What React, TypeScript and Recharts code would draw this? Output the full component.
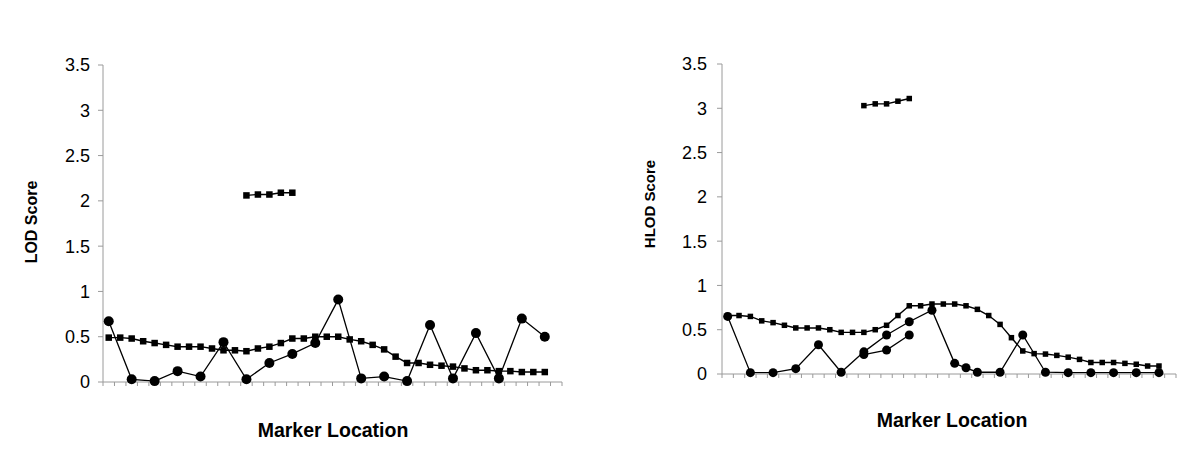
import React from 'react';
import { LineChart, Line, XAxis, YAxis } from 'recharts';

// 40 marker slots along the chromosome (category positions)
const markers = [
  1, 2, 3, 4, 5, 6, 7, 8, 9, 10, 11, 12, 13, 14, 15, 16, 17, 18, 19, 20,
  21, 22, 23, 24, 25, 26, 27, 28, 29, 30, 31, 32, 33, 34, 35, 36, 37, 38, 39, 40,
];
const yTicks = [0, 0.5, 1, 1.5, 2, 2.5, 3, 3.5];
const yTickLabels = ['0', '0.5', '1', '1.5', '2', '2.5', '3', '3.5'];

// Left panel: LOD score
const lodSquare = [
  0.49, 0.49, 0.48, 0.45, 0.43, 0.41, 0.39, 0.39, 0.39, 0.37, 0.35, 0.35, 0.34, 0.37, 0.39, 0.43,
  0.48, 0.48, 0.5, 0.5, 0.5, 0.47, 0.45, 0.41, 0.36, 0.28, 0.21, 0.21, 0.19, 0.18, 0.17, 0.15,
  0.13, 0.13, 0.12, 0.12, 0.11, 0.11, 0.11, null,
];
const lodCircle = [
  0.67, null, 0.03, null, 0.01, null, 0.12, null, 0.06, null, 0.44, null, 0.03, null, 0.21, null,
  0.31, null, 0.43, null, 0.91, null, 0.04, null, 0.06, null, 0.01, null, 0.63, null, 0.04, null,
  0.54, null, 0.04, null, 0.7, null, 0.5, null,
];
const lodPeak = [
  null, null, null, null, null, null, null, null, null, null, null, null, 2.06, 2.07, 2.07, 2.09,
  2.09, null, null, null, null, null, null, null, null, null, null, null, null, null, null, null,
  null, null, null, null, null, null, null, null,
];

// Right panel: HLOD score
const hlodSquare = [
  0.66, 0.66, 0.65, 0.6, 0.58, 0.55, 0.52, 0.52, 0.52, 0.5, 0.47, 0.47, 0.47, 0.5, 0.55, 0.66,
  0.77, 0.77, 0.79, 0.79, 0.79, 0.77, 0.73, 0.66, 0.56, 0.41, 0.26, 0.23, 0.225, 0.21, 0.19, 0.165,
  0.13, 0.13, 0.13, 0.12, 0.11, 0.09, 0.09, null,
];
const hlodCircle = [
  0.65, null, 0.015, null, 0.015, null, 0.06, null, 0.33, null, 0.02, null, 0.25, null, 0.44, null,
  0.59, null, 0.72, null, 0.12, 0.07, 0.02, null, 0.02, null, 0.44, null, 0.02, null, 0.015, null,
  0.015, null, 0.015, null, 0.015, null, 0.015, null,
];
const hlodCircle2 = [
  null, null, null, null, null, null, null, null, null, null, null, null, 0.22, null, 0.27, null,
  0.44, null, null, null, null, null, null, null, null, null, null, null, null, null, null, null,
  null, null, null, null, null, null, null, null,
];
const hlodPeak = [
  null, null, null, null, null, null, null, null, null, null, null, null, 3.03, 3.05, 3.05, 3.08,
  3.11, null, null, null, null, null, null, null, null, null, null, null, null, null, null, null,
  null, null, null, null, null, null, null, null,
];

const leftData = markers.map((m, i) => ({
  m,
  sq: lodSquare[i],
  ci: lodCircle[i],
  pk: lodPeak[i],
}));
const rightData = markers.map((m, i) => ({
  m,
  sq: hlodSquare[i],
  ci: hlodCircle[i],
  ci2: hlodCircle2[i],
  pk: hlodPeak[i],
}));

const xBoundaries = [0.5, ...markers.map((m) => m + 0.5)];

const FONT = "Arial, 'Liberation Sans', sans-serif";
const AXIS = '#9a9a9a';

const SquareDot = (size: number) => (props: any) => {
  const { cx, cy, value, index } = props;
  if (cx == null || cy == null || value == null) return <g key={`s${index}`} />;
  return <rect key={`s${index}`} x={cx - size / 2} y={cy - size / 2} width={size} height={size} fill="#000" />;
};
const CircleDot = (r: number) => (props: any) => {
  const { cx, cy, value, index } = props;
  if (cx == null || cy == null || value == null) return <g key={`c${index}`} />;
  return <ellipse key={`c${index}`} cx={cx} cy={cy} rx={r} ry={r} fill="#000" />;
};

const YTick = (props: any) => {
  const { x, y, payload } = props;
  const idx = yTicks.indexOf(payload.value);
  const label = idx >= 0 ? yTickLabels[idx] : String(payload.value);
  return (
    <text
      x={x}
      y={y}
      dy="0.36em"
      textAnchor="end"
      fontFamily={FONT}
      fontSize={18}
      fill="#000"
    >
      {label}
    </text>
  );
};
const EmptyTick = () => <g />;

type PanelProps = {
  data: any[];
  yAxisWidth: number;
  margin: { top: number; right: number; bottom: number; left: number };
  tickMargin: number;
  circleKeys: string[];
  squareSize: number;
  circleR: number;
};

const Panel = ({ data, yAxisWidth, margin, tickMargin, circleKeys, squareSize, circleR }: PanelProps) => (
  <LineChart width={600} height={465} data={data} margin={margin}>
    <XAxis
      dataKey="m"
      type="number"
      domain={[0.5, 40.5]}
      ticks={xBoundaries}
      interval={0}
      height={10}
      tick={<EmptyTick />}
      tickSize={4}
      tickLine={{ stroke: AXIS }}
      axisLine={{ stroke: AXIS }}
    />
    <YAxis
      type="number"
      domain={[0, 3.5]}
      ticks={yTicks}
      interval={0}
      width={yAxisWidth}
      tickSize={5}
      tickMargin={tickMargin}
      tick={<YTick />}
      tickLine={{ stroke: AXIS }}
      axisLine={{ stroke: AXIS }}
    />
    <Line
      dataKey="sq"
      stroke="#000"
      strokeWidth={1.4}
      connectNulls
      isAnimationActive={false}
      dot={SquareDot(squareSize)}
      activeDot={false}
    />
    {circleKeys.map((k) => (
      <Line
        key={k}
        dataKey={k}
        stroke="#000"
        strokeWidth={1.3}
        connectNulls
        isAnimationActive={false}
        dot={CircleDot(circleR)}
        activeDot={false}
      />
    ))}
    <Line
      dataKey="pk"
      stroke="#000"
      strokeWidth={1.4}
      connectNulls
      isAnimationActive={false}
      dot={SquareDot(squareSize)}
      activeDot={false}
    />
  </LineChart>
);

export default function App() {
  return (
    <div style={{ position: 'absolute', left: 0, top: 0, width: 1200, height: 465, background: '#fff', overflow: 'hidden' }}>
      <div style={{ position: 'absolute', left: 0, top: 0 }}>
        <Panel
          data={leftData}
          yAxisWidth={103}
          margin={{ top: 65, right: 38, bottom: 73, left: 0 }}
          tickMargin={8}
          circleKeys={['ci']}
          squareSize={6.5}
          circleR={5}
        />
      </div>
      <div style={{ position: 'absolute', left: 600, top: 0 }}>
        <Panel
          data={rightData}
          yAxisWidth={122}
          margin={{ top: 64, right: 24, bottom: 81, left: 0 }}
          tickMargin={10}
          circleKeys={['ci', 'ci2']}
          squareSize={5.5}
          circleR={4.5}
        />
      </div>
      <svg width={1200} height={465} style={{ position: 'absolute', left: 0, top: 0, pointerEvents: 'none' }}>
        <text x={333} y={430} dy="0.36em" textAnchor="middle" fontFamily={FONT} fontWeight="bold" fontSize={19.5}>
          Marker Location
        </text>
        <text x={952} y={420} dy="0.36em" textAnchor="middle" fontFamily={FONT} fontWeight="bold" fontSize={19.5}>
          Marker Location
        </text>
        <text
          x={31}
          y={222}
          dy="0.36em"
          textAnchor="middle"
          fontFamily={FONT}
          fontWeight="bold"
          fontSize={16}
          transform="rotate(-90 31 222)"
        >
          LOD Score
        </text>
        <text
          x={650}
          y={204}
          dy="0.36em"
          textAnchor="middle"
          fontFamily={FONT}
          fontWeight="bold"
          fontSize={15}
          transform="rotate(-90 650 204)"
        >
          HLOD Score
        </text>
      </svg>
    </div>
  );
}
